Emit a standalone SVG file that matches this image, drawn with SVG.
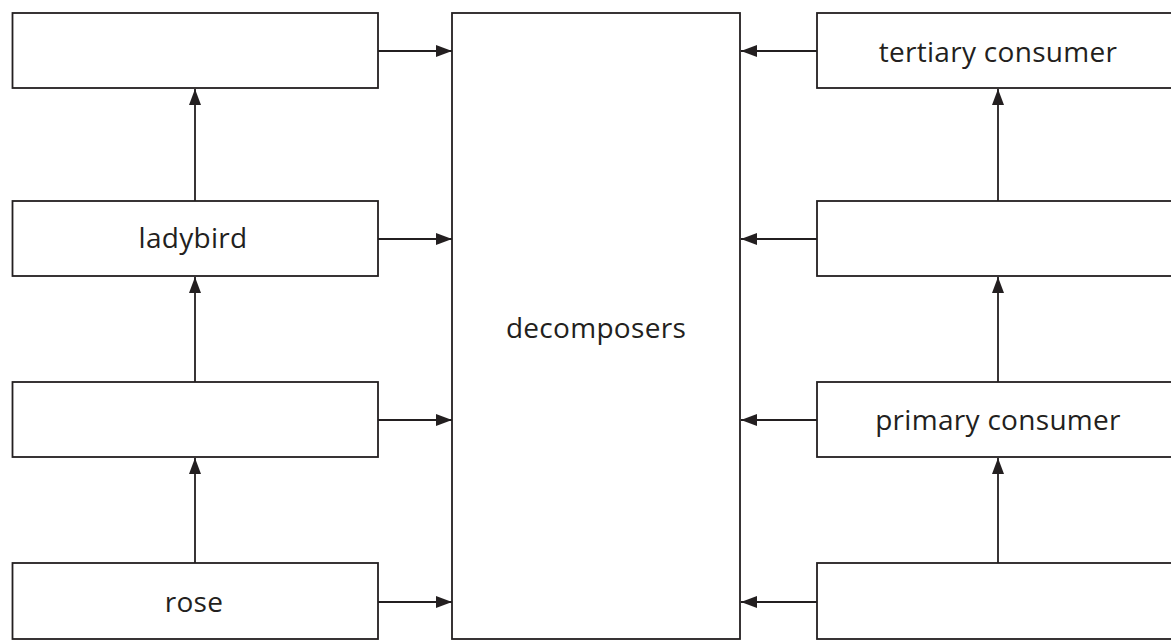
<svg xmlns="http://www.w3.org/2000/svg" width="1171" height="640" viewBox="0 0 1171 640">
<style>
.box{fill:#fff;stroke:#231f20;stroke-width:1.8}
.lbl{font-family:"Open Sans","Noto Sans",sans-serif;font-size:28px;letter-spacing:0.3px;fill:#231f20;text-anchor:middle}
.con{stroke:#231f20;stroke-width:1.8;fill:none}
</style>
<defs>
<marker id="ah" viewBox="0 0 16 12" refX="16" refY="6" markerWidth="16" markerHeight="12" markerUnits="userSpaceOnUse" orient="auto">
<path d="M0,0 L16,6 L0,12 Z" fill="#231f20"/>
</marker>
</defs>
<rect width="1171" height="640" fill="#fff"/>
<g id="decomposers"><rect class="box" x="452" y="13" width="288" height="626"/><text class="lbl" x="596" y="338">decomposers</text></g>
<g id="left4"><rect class="box" x="12.5" y="13" width="365.5" height="75"/></g>
<g id="ladybird"><rect class="box" x="12.5" y="201" width="365.5" height="75"/><text class="lbl" x="193" y="248">ladybird</text></g>
<g id="left2"><rect class="box" x="12.5" y="382" width="365.5" height="75"/></g>
<g id="rose"><rect class="box" x="12.5" y="563" width="365.5" height="76"/><text class="lbl" x="194" y="612">rose</text></g>
<g id="tertiary"><rect class="box" x="817" y="13" width="370" height="75"/><text class="lbl" x="998" y="62">tertiary consumer</text></g>
<g id="right3"><rect class="box" x="817" y="201" width="370" height="75"/></g>
<g id="primary"><rect class="box" x="817" y="382" width="370" height="75"/><text class="lbl" x="998" y="430">primary consumer</text></g>
<g id="right1"><rect class="box" x="817" y="563" width="370" height="76"/></g>
<g id="connectors">
<line class="con" x1="378" y1="51" x2="452" y2="51" marker-end="url(#ah)"/>
<line class="con" x1="378" y1="239" x2="452" y2="239" marker-end="url(#ah)"/>
<line class="con" x1="378" y1="420" x2="452" y2="420" marker-end="url(#ah)"/>
<line class="con" x1="378" y1="602" x2="452" y2="602" marker-end="url(#ah)"/>
<line class="con" x1="817" y1="51" x2="741" y2="51" marker-end="url(#ah)"/>
<line class="con" x1="817" y1="239" x2="741" y2="239" marker-end="url(#ah)"/>
<line class="con" x1="817" y1="420" x2="741" y2="420" marker-end="url(#ah)"/>
<line class="con" x1="817" y1="602" x2="741" y2="602" marker-end="url(#ah)"/>
<line class="con" x1="195" y1="201" x2="195" y2="89" marker-end="url(#ah)"/>
<line class="con" x1="195" y1="382" x2="195" y2="277" marker-end="url(#ah)"/>
<line class="con" x1="195" y1="563" x2="195" y2="458" marker-end="url(#ah)"/>
<line class="con" x1="998" y1="201" x2="998" y2="89" marker-end="url(#ah)"/>
<line class="con" x1="998" y1="382" x2="998" y2="277" marker-end="url(#ah)"/>
<line class="con" x1="998" y1="563" x2="998" y2="458" marker-end="url(#ah)"/>
</g>
</svg>
